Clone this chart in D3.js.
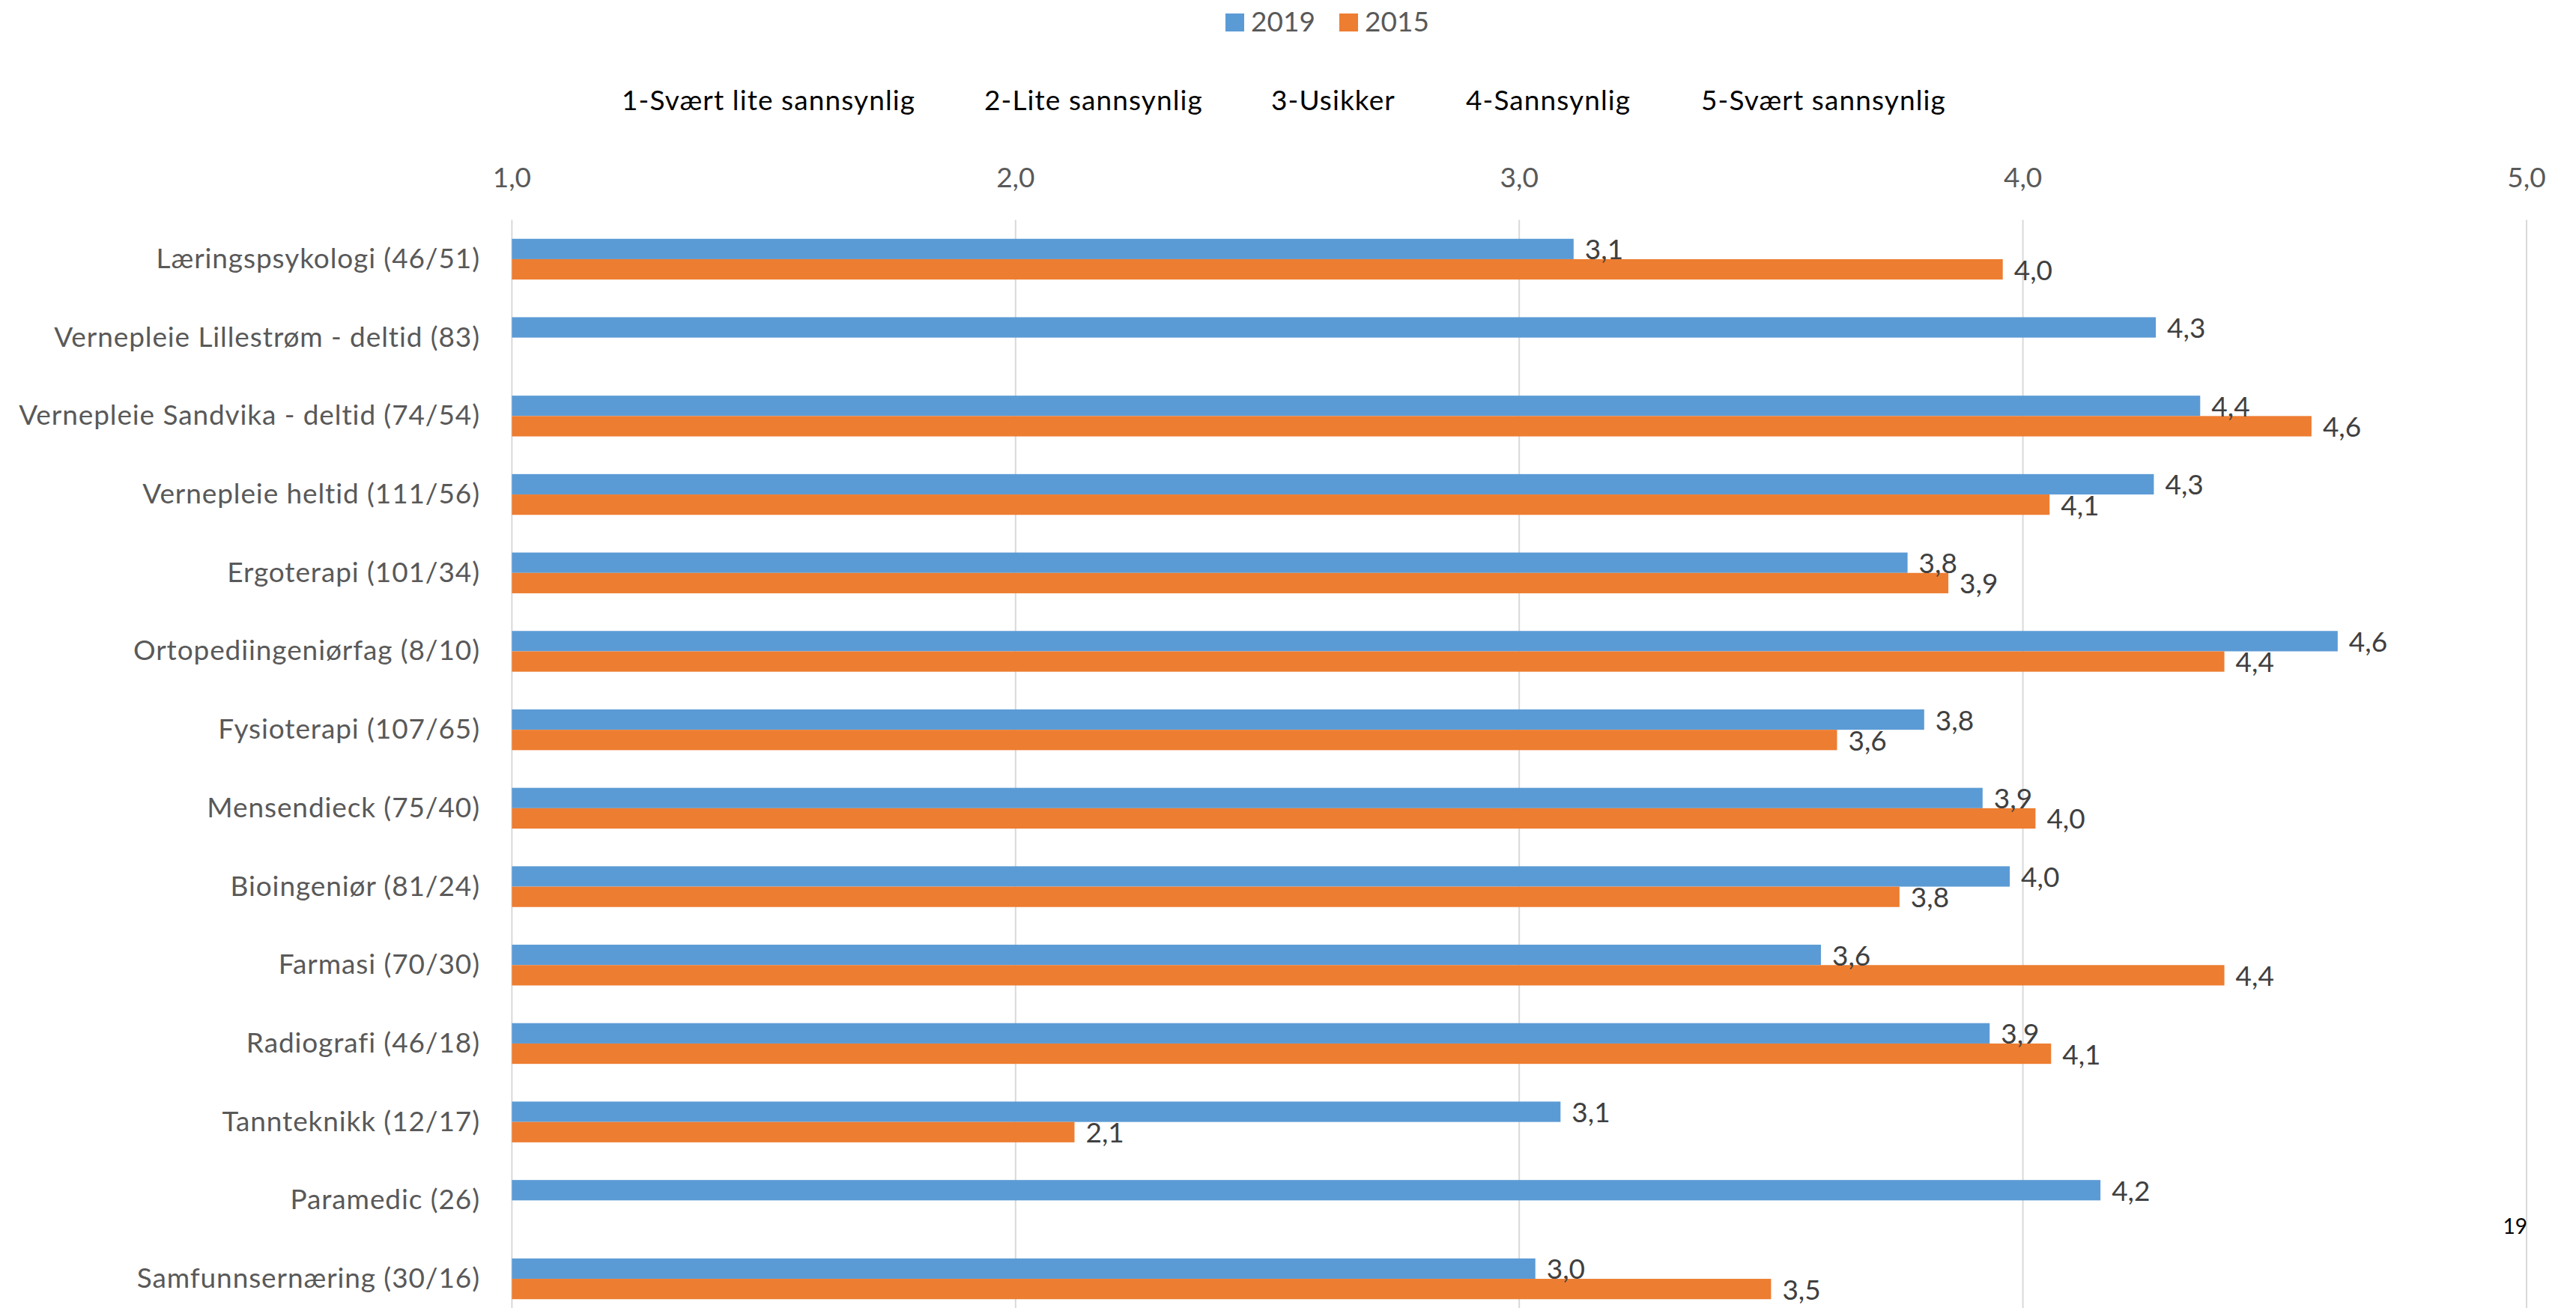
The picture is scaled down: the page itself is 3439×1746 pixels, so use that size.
<!DOCTYPE html>
<html>
<head>
<meta charset="utf-8">
<script src="https://cdn.jsdelivr.net/npm/d3@7"></script>
<style>
  html, body { margin: 0; padding: 0; background: #fff; }
  svg { display: block; }
  text { font-family: Lato, "Open Sans", sans-serif; }
</style>
</head>
<body>
<svg id="chart" width="3439" height="1746"></svg>
<script>
// ---- data ----
const categories = [
  "Læringspsykologi (46/51)",
  "Vernepleie Lillestrøm - deltid (83)",
  "Vernepleie Sandvika - deltid (74/54)",
  "Vernepleie heltid (111/56)",
  "Ergoterapi (101/34)",
  "Ortopediingeniørfag (8/10)",
  "Fysioterapi (107/65)",
  "Mensendieck (75/40)",
  "Bioingeniør (81/24)",
  "Farmasi (70/30)",
  "Radiografi (46/18)",
  "Tannteknikk (12/17)",
  "Paramedic (26)",
  "Samfunnsernæring (30/16)"
];
const seriesNames = ["2019", "2015"];
const values2019 = [3.108, 4.264, 4.352, 4.260, 3.771, 4.625, 3.804, 3.920, 3.974, 3.599, 3.934, 3.082, 4.154, 3.032];
const values2015 = [3.960, null, 4.573, 4.053, 3.852, 4.400, 3.631, 4.025, 3.755, 4.400, 4.056, 2.117, null, 3.500];
const xTicks = [1, 2, 3, 4, 5];
const scaleLabels = ["1-Svært lite sannsynlig", "2-Lite sannsynlig", "3-Usikker", "4-Sannsynlig", "5-Svært sannsynlig"];
const pageNumber = "19";

// ---- style ----
const colors = { "2019": "#5B9BD5", "2015": "#ED7D31" };
const gridColor = "#d9d9d9";
const axisTextColor = "#595959";
const valueTextColor = "#404040";
const fontSize = 37;
const spacing = "0.9px";

const svg = d3.select("#chart");

const x = d3.scaleLinear().domain([1, 5]).range([683.4, 3373.0]);
const y = d3.scaleBand().domain(categories).range([293.6, 1759.4]).padding(0);
const step = y.step();
const barH = 27.2;
const ySub = d3.scaleBand().domain(seriesNames)
  .range([step / 2 - barH, step / 2 + barH]).padding(0);

// gridlines
svg.append("g").selectAll("line").data(xTicks).join("line")
  .attr("x1", d => x(d)).attr("x2", d => x(d))
  .attr("y1", y.range()[0]).attr("y2", y.range()[1])
  .attr("stroke", gridColor).attr("stroke-width", 2);

// top axis tick labels
svg.append("g").selectAll("text").data(xTicks).join("text")
  .attr("x", d => x(d)).attr("y", 250)
  .attr("text-anchor", "middle")
  .attr("fill", axisTextColor)
  .attr("font-size", fontSize)
  .text(d => d3.format(".1f")(d).replace(".", ","));

// category labels
svg.append("g").selectAll("text").data(categories).join("text")
  .attr("x", 641).attr("y", d => y(d) + step / 2 + 12)
  .attr("text-anchor", "end")
  .attr("fill", axisTextColor)
  .attr("font-size", fontSize)
  .attr("letter-spacing", spacing)
  .text(d => d);

// bars
const rows = [];
categories.forEach((c, i) => {
  [["2019", values2019[i]], ["2015", values2015[i]]].forEach(([s, v]) => {
    if (v != null) rows.push({ cat: c, series: s, value: v });
  });
});

svg.append("g").selectAll("rect").data(rows).join("rect")
  .attr("x", x(1))
  .attr("y", d => y(d.cat) + ySub(d.series))
  .attr("width", d => x(d.value) - x(1))
  .attr("height", ySub.bandwidth())
  .attr("fill", d => colors[d.series]);

// value labels
svg.append("g").selectAll("text").data(rows).join("text")
  .attr("x", d => x(d.value) + 15)
  .attr("y", d => y(d.cat) + ySub(d.series) + ySub.bandwidth() / 2 + 14)
  .attr("fill", valueTextColor)
  .attr("font-size", fontSize)
  .text(d => d3.format(".1f")(d.value).replace(".", ","));

// legend
const legendPos = [1636, 1788];
const lg = svg.append("g");
seriesNames.forEach((s, i) => {
  lg.append("rect").attr("x", legendPos[i]).attr("y", 18).attr("width", 25).attr("height", 24)
    .attr("fill", colors[s]);
  lg.append("text").attr("x", legendPos[i] + 34).attr("y", 42)
    .attr("fill", axisTextColor).attr("font-size", fontSize).text(s);
});

// scale description row
const scaleX = [830, 1314, 1697, 1957, 2271];
svg.append("g").selectAll("text").data(scaleLabels).join("text")
  .attr("x", (d, i) => scaleX[i]).attr("y", 147)
  .attr("fill", "#000").attr("font-size", fontSize)
  .attr("letter-spacing", "1.1px")
  .text(d => d);

// page number
svg.append("text").attr("x", 3374).attr("y", 1647)
  .attr("text-anchor", "end").attr("fill", "#000").attr("font-size", 28)
  .text(pageNumber);
</script>
</body>
</html>
